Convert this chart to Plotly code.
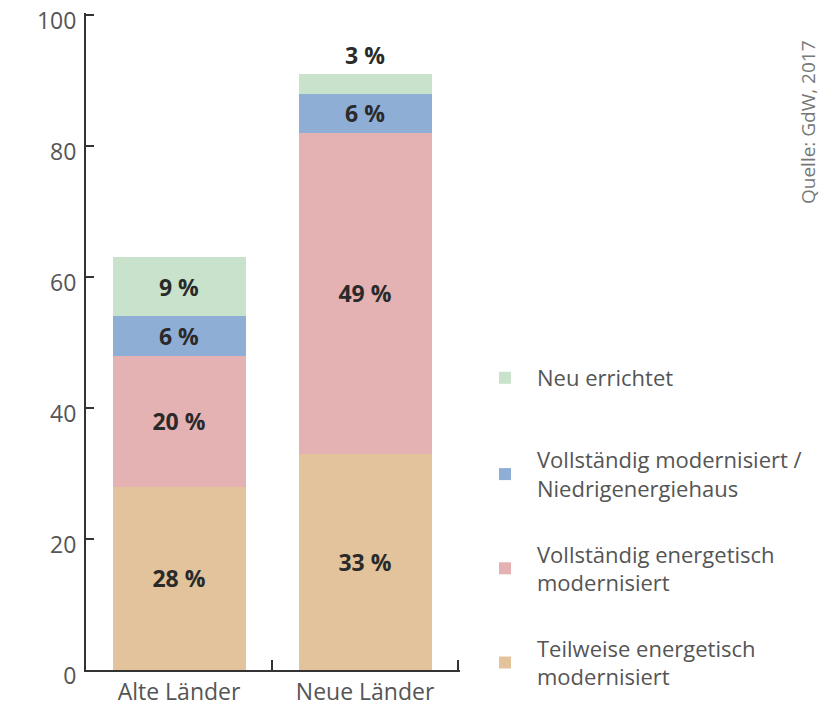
import plotly.graph_objects as go

categories = ["Alte Länder", "Neue Länder"]
series_names = [
    "Teilweise energetisch<br>modernisiert",
    "Vollständig energetisch<br>modernisiert",
    "Vollständig modernisiert /<br>Niedrigenergiehaus",
    "Neu errichtet",
]
teilweise = [28, 33]
vollst_energetisch = [20, 49]
vollst_niedrig = [6, 6]
neu = [9, 3]
series_values = [teilweise, vollst_energetisch, vollst_niedrig, neu]
series_colors = ["#e2c39c", "#e5b2b3", "#8eaed6", "#c8e2cc"]
y_ticks = [0, 20, 40, 60, 80, 100]
source_text = "Quelle: GdW, 2017"

FONT = "Open Sans, Noto Sans, sans-serif"

fig = go.Figure()
n = len(series_names)
for i, (name, vals, col) in enumerate(zip(series_names, series_values, series_colors)):
    is_top = i == n - 1
    positions = ["inside" if (not is_top or v >= 5) else "outside" for v in vals]
    fig.add_trace(go.Bar(
        x=categories,
        y=vals,
        name=name,
        legend="legend2" if is_top else "legend",
        legendgroup=f"g{i}",
        legendrank=n - i,
        marker=dict(color=col, line=dict(width=0)),
        text=[f"{v} %" for v in vals],
        textposition=positions,
        insidetextanchor="middle",
        textfont=dict(family=FONT, size=23, color="#2a2a2a", weight="bold"),
        constraintext="none",
        cliponaxis=False,
        hoverinfo="skip",
    ))

legend_common = dict(
    traceorder="grouped",
    tracegroupgap=34,
    itemwidth=54,
    xref="container",
    yref="container",
    xanchor="left",
    yanchor="top",
    font=dict(family=FONT, size=22, color="#555555"),
    bgcolor="rgba(0,0,0,0)",
    itemclick=False,
    itemdoubleclick=False,
)

M_L, M_R, M_T, M_B = 86, 369, 13, 38
PLOT_W = 829 - M_L - M_R
PLOT_H = 708 - M_T - M_B

fig.update_layout(
    barmode="stack",
    bargap=0.285,
    width=829,
    height=708,
    margin=dict(l=M_L, r=M_R, t=M_T, b=M_B, autoexpand=False),
    paper_bgcolor="white",
    plot_bgcolor="white",
    font=dict(family=FONT, size=24, color="#555555"),
    showlegend=True,
    legend=dict(legend_common, x=473 / 829, y=1 - 439 / 708),
    legend2=dict(legend_common, x=473 / 829, y=1 - 357 / 708),
    xaxis=dict(
        range=[-0.5, 1.51],
        showline=True,
        linecolor="#333333",
        linewidth=2,
        ticks="inside",
        tickson="boundaries",
        ticklen=10,
        tickwidth=2,
        tickcolor="#333333",
        showgrid=False,
        tickfont=dict(family=FONT, size=23, color="#555555"),
    ),
    yaxis=dict(
        range=[0, 100.3],
        tickvals=y_ticks,
        showline=True,
        linecolor="#333333",
        linewidth=2,
        ticks="inside",
        ticklen=8,
        tickwidth=2,
        tickcolor="#333333",
        showgrid=False,
        zeroline=False,
        ticklabelstandoff=3,
        ticklabelshift=6,
        ticklabeloverflow="allow",
        tickfont=dict(family=FONT, size=23, color="#555555"),
    ),
    annotations=[dict(
        text=source_text,
        xref="paper", yref="paper",
        x=(808 - M_L) / PLOT_W, y=(708 - M_B - 122) / PLOT_H,
        xanchor="center", yanchor="middle",
        textangle=-90,
        showarrow=False,
        font=dict(family=FONT, size=19, color="#777777"),
    )],
)

fig.write_html(
    "out.html",
    config={"displayModeBar": False},
    post_script="document.body.style.margin='0';document.body.style.padding='0';",
)
